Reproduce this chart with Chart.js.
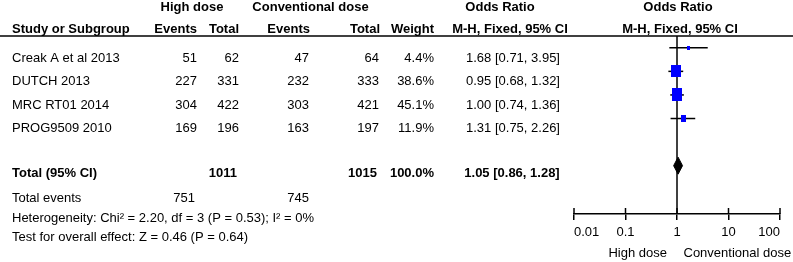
<!DOCTYPE html>
<html>
<head>
<meta charset="utf-8">
<script src="https://cdn.jsdelivr.net/npm/chart.js@4/dist/chart.umd.min.js"></script>
<style>
  html, body { margin: 0; padding: 0; background: #fff; }
  #wrap { width: 793px; height: 262px; }
</style>
</head>
<body>
<div id="wrap"><canvas id="forest" width="793" height="262"></canvas></div>
<script>
// data
var studies    = ['Creak A et al 2013', 'DUTCH 2013', 'MRC RT01 2014', 'PROG9509 2010'];
var highEvents = [51, 227, 304, 169];
var highTotal  = [62, 331, 422, 196];
var convEvents = [47, 232, 303, 163];
var convTotal  = [64, 333, 421, 197];
var weights    = [4.4, 38.6, 45.1, 11.9];
var oddsRatio  = [1.68, 0.95, 1.00, 1.31];
var ciLow      = [0.71, 0.68, 0.74, 0.75];
var ciHigh     = [3.95, 1.32, 1.36, 2.26];
var pooled     = [1.05, 0.86, 1.28];   // OR, lower, upper
var xTicks     = [0.01, 0.1, 1, 10, 100];
var heterogeneity = 'Heterogeneity: Chi\u00b2 = 2.20, df = 3 (P = 0.53); I\u00b2 = 0%';
var overallTest   = 'Test for overall effect: Z = 0.46 (P = 0.64)';

var FONT = "'Liberation Sans', Arial, Helvetica, sans-serif";
var TOTAL_ROW = 6;

var sum = function(a){ return a.reduce(function(s, v){ return s + v; }, 0); };
var fmtCI = function(o, l, h){ return o.toFixed(2) + ' [' + l.toFixed(2) + ', ' + h.toFixed(2) + ']'; };

// blue box, area ~ weight (reference is slightly stretched vertically)
function box(w){
    var s = Math.sqrt(w);
    var c = document.createElement('canvas');
    c.width = Math.max(3, Math.round(s * 1.55));
    c.height = Math.max(4, Math.round(s * 1.95));
    var g = c.getContext('2d');
    g.fillStyle = '#0000ff';
    g.fillRect(0, 0, c.width, c.height);
    return c;
}

// whiskers, one dataset each
var whiskers = studies.map(function(s, i){
    return {
        type: 'line',
        data: [{x: ciLow[i], y: i + 1}, {x: ciHigh[i], y: i + 1}],
        borderColor: '#000',
        borderWidth: 1.5,
        pointRadius: 0,
        fill: false,
        order: 2
    };
});

var squares = {
    type: 'scatter',
    data: studies.map(function(s, i){ return {x: oddsRatio[i], y: i + 1}; }),
    pointStyle: weights.map(box),
    pointRadius: 5,
    order: 1
};

var dh = 0.36;
var diamond = {
    type: 'line',
    data: [
        {x: pooled[1], y: TOTAL_ROW},
        {x: pooled[0], y: TOTAL_ROW - dh},
        {x: pooled[2], y: TOTAL_ROW},
        {x: pooled[0], y: TOTAL_ROW + dh},
        {x: pooled[1], y: TOTAL_ROW}
    ],
    borderColor: '#000',
    backgroundColor: '#000',
    borderWidth: 1,
    pointRadius: 0,
    fill: 'shape',
    tension: 0,
    order: 1
};

function txt(ctx, s, x, y, align, bold){
    ctx.font = (bold ? 'bold ' : '') + '13px ' + FONT;
    ctx.textAlign = align;
    ctx.fillText(s, x, y);
}

var tablePlugin = {
    id: 'table',
    beforeDatasetsDraw: function(chart){
        var ctx = chart.ctx, xs = chart.scales.x, area = chart.chartArea;
        var x1 = xs.getPixelForValue(1);
        ctx.save();
        ctx.strokeStyle = '#000';
        ctx.lineWidth = 1.5;
        // header rule
        ctx.beginPath();
        ctx.moveTo(0, area.top);
        ctx.lineTo(chart.width, area.top);
        ctx.stroke();
        // line of no effect
        ctx.beginPath();
        ctx.moveTo(x1, area.top);
        ctx.lineTo(x1, area.bottom);
        ctx.stroke();
        // upper half of axis ticks
        xTicks.forEach(function(v){
            var p = xs.getPixelForValue(v);
            ctx.beginPath();
            ctx.moveTo(p, area.bottom - 6);
            ctx.lineTo(p, area.bottom);
            ctx.stroke();
        });
        ctx.restore();
    },
    afterDraw: function(chart){
        var ctx = chart.ctx, xs = chart.scales.x;
        var x1 = xs.getPixelForValue(1);
        ctx.save();
        ctx.fillStyle = '#000';
        ctx.textBaseline = 'alphabetic';

        // header
        txt(ctx, 'High dose', 192, 11, 'center', true);
        txt(ctx, 'Conventional dose', 310.5, 11, 'center', true);
        txt(ctx, 'Odds Ratio', 500, 11, 'center', true);
        txt(ctx, 'Odds Ratio', 678, 11, 'center', true);
        txt(ctx, 'Study or Subgroup', 12, 32.5, 'left', true);
        txt(ctx, 'Events', 197, 32.5, 'right', true);
        txt(ctx, 'Total', 239, 32.5, 'right', true);
        txt(ctx, 'Events', 310, 32.5, 'right', true);
        txt(ctx, 'Total', 380, 32.5, 'right', true);
        txt(ctx, 'Weight', 434, 32.5, 'right', true);
        txt(ctx, 'M-H, Fixed, 95% CI', 510, 32.5, 'center', true);
        txt(ctx, 'M-H, Fixed, 95% CI', 680, 32.5, 'center', true);

        // studies
        var rows = [61.5, 85, 108.5, 131.5];
        studies.forEach(function(s, i){
            var y = rows[i];
            txt(ctx, s, 12, y, 'left');
            txt(ctx, String(highEvents[i]), 197, y, 'right');
            txt(ctx, String(highTotal[i]), 239, y, 'right');
            txt(ctx, String(convEvents[i]), 309, y, 'right');
            txt(ctx, String(convTotal[i]), 379, y, 'right');
            txt(ctx, weights[i].toFixed(1) + '%', 434, y, 'right');
            txt(ctx, fmtCI(oddsRatio[i], ciLow[i], ciHigh[i]), 513, y, 'center');
        });

        // totals
        txt(ctx, 'Total (95% CI)', 12, 176.5, 'left', true);
        txt(ctx, String(sum(highTotal)), 237, 176.5, 'right', true);
        txt(ctx, String(sum(convTotal)), 377, 176.5, 'right', true);
        txt(ctx, sum(weights).toFixed(1) + '%', 434, 176.5, 'right', true);
        txt(ctx, fmtCI(pooled[0], pooled[1], pooled[2]), 512, 176.5, 'center', true);

        txt(ctx, 'Total events', 12, 202, 'left');
        txt(ctx, String(sum(highEvents)), 195, 202, 'right');
        txt(ctx, String(sum(convEvents)), 309, 202, 'right');
        txt(ctx, heterogeneity, 12, 221.5, 'left');
        txt(ctx, overallTest, 12, 241.3, 'left');

        // favours labels
        txt(ctx, 'High dose', x1 - 10, 257, 'right');
        txt(ctx, 'Conventional dose', x1 + 6.5, 257, 'left');
        ctx.restore();
    }
};

Chart.defaults.font.family = FONT;
Chart.defaults.font.size = 13;
Chart.defaults.color = '#000';

new Chart(document.getElementById('forest').getContext('2d'), {
    type: 'scatter',
    data: { datasets: [squares, diamond].concat(whiskers) },
    options: {
        responsive: false,
        animation: false,
        layout: { padding: { left: 574, right: 13, top: 36, bottom: 0 } },
        plugins: { legend: { display: false }, tooltip: { enabled: false } },
        scales: {
            x: {
                type: 'logarithmic',
                min: 0.01,
                max: 100,
                afterBuildTicks: function(s){ s.ticks = xTicks.map(function(v){ return {value: v}; }); },
                afterFit: function(s){ s.height = 48; },
                border: { display: true, color: '#000', width: 1.5 },
                grid: { display: true, drawOnChartArea: false, drawTicks: true, tickLength: 6, color: '#000', lineWidth: 1.5 },
                ticks: {
                    align: 'inner',
                    autoSkip: false,
                    maxRotation: 0,
                    padding: 5,
                    color: '#000',
                    callback: function(v){ return String(v); }
                }
            },
            y: {
                type: 'linear',
                display: false,
                reverse: true,
                min: 0.5,
                max: 8.05
            }
        }
    },
    plugins: [tablePlugin]
});
</script>
</body>
</html>
